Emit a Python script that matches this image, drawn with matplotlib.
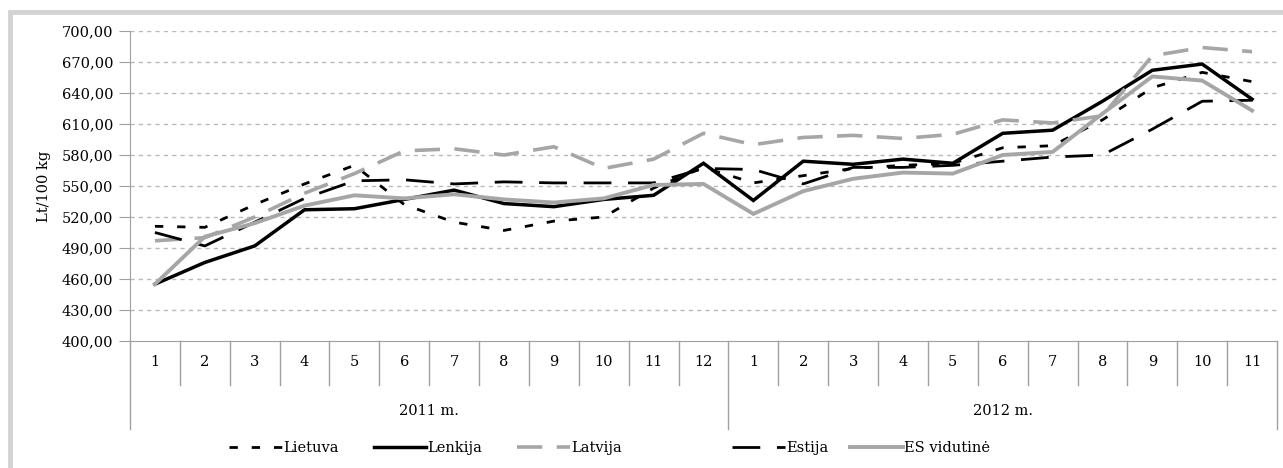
import matplotlib
matplotlib.use("Agg")
import matplotlib.pyplot as plt
from matplotlib.patches import Rectangle

plt.rcParams['font.family'] = ['DejaVu Serif']

# data
months = ['1', '2', '3', '4', '5', '6', '7', '8', '9', '10', '11', '12',
          '1', '2', '3', '4', '5', '6', '7', '8', '9', '10', '11']
years = ['2011 m.', '2012 m.']
year_len = [12, 11]

lietuva = [511, 510, 532, 552, 570, 532, 515, 507, 516, 520, 548, 568,
           553, 560, 567, 570, 572, 587, 589, 614, 645, 660, 651]
lenkija = [455, 476, 492, 527, 528, 537, 546, 533, 530, 537, 541, 572,
           536, 574, 571, 576, 572, 601, 604, 632, 662, 668, 634]
latvija = [497, 500, 520, 543, 562, 584, 586, 580, 588, 567, 576, 601,
           590, 597, 599, 596, 600, 614, 611, 618, 676, 684, 680]
estija = [505, 492, 515, 538, 555, 556, 552, 554, 553, 553, 553, 567,
          566, 552, 568, 568, 570, 574, 578, 580, 605, 632, 633]
es_vid = [455, 501, 514, 531, 541, 538, 542, 537, 534, 538, 551, 552,
          523, 545, 557, 563, 562, 580, 583, 620, 656, 652, 623]

series = [
    ('Lietuva', lietuva, dict(color='black', lw=2.0, dashes=(3, 5))),
    ('Lenkija', lenkija, dict(color='black', lw=2.5)),
    ('Latvija', latvija, dict(color='#a6a6a6', lw=2.6, dashes=(7, 4))),
    ('Estija', estija, dict(color='black', lw=2.0, dashes=(10, 6))),
    ('ES vidutinė', es_vid, dict(color='#a6a6a6', lw=2.8)),
]

W, H = 1283, 468
fig = plt.figure(figsize=(W / 100, H / 100), dpi=100)
ax = fig.add_axes([130 / W, 1 - 341 / H, (1277 - 130) / W, 310 / H])

x = list(range(len(months)))
handles = []
for name, vals, st in series:
    h, = ax.plot(x, vals, label=name, solid_joinstyle='miter', **st)
    handles.append(h)

ax.set_xlim(-0.5, len(months) - 0.5)
ax.set_ylim(400, 700)
yt = list(range(400, 701, 30))
ax.set_yticks(yt)
ax.set_yticklabels([f'{v},00' for v in yt], fontsize=10.5)
ax.tick_params(axis='y', length=8, color='#a0a0a0', pad=4)
ax.set_xticks([])
for v in yt[1:]:
    ax.axhline(v, color='#b8b8b8', lw=1, dashes=(3, 3), zorder=0)

for s in ['top', 'right']:
    ax.spines[s].set_visible(False)
ax.spines['left'].set_color('#a0a0a0')
ax.spines['bottom'].set_color('#a0a0a0')
ax.set_ylabel('Lt/100 kg', fontsize=10.5, labelpad=8)

# category axis: month and year separators
trans = ax.get_xaxis_transform()
month_drop = -44 / 310
year_drop = -88 / 310
start = 0
year_edges = [-0.5]
for n in year_len:
    start += n
    year_edges.append(start - 0.5)
for i in range(len(months) + 1):
    b = i - 0.5
    low = year_drop if b in year_edges else month_drop
    ax.plot([b, b], [0, low], transform=trans, color='#a0a0a0', lw=1, clip_on=False)
for i, m in enumerate(months):
    ax.text(i, -21 / 310, m, transform=trans, ha='center', va='center', fontsize=10.5)
for k, yl in enumerate(years):
    c = (year_edges[k] + year_edges[k + 1]) / 2
    ax.text(c, -70 / 310, yl, transform=trans, ha='center', va='center', fontsize=10.5)

# legend in two groups, spaced like the original
leg_y = 1 - 448 / H
leg1 = fig.legend(handles=handles[:3], loc='center left', bbox_to_anchor=(216 / W, leg_y), ncol=3,
                  frameon=False, fontsize=10.5, handlelength=3.6, handletextpad=0.1,
                  columnspacing=2.4)
leg2 = fig.legend(handles=handles[3:], loc='center left', bbox_to_anchor=(719 / W, leg_y), ncol=2,
                  frameon=False, fontsize=10.5, handlelength=3.6, handletextpad=0.1,
                  columnspacing=1.5)

# light grey frame of the picture
fig.patches.append(Rectangle((10 / W, -0.1), 1.2, 1 - 12 / H + 0.1, transform=fig.transFigure,
                             fill=False, edgecolor='#d3d3d3', lw=3.5))

fig.savefig('out.png', dpi=100)
